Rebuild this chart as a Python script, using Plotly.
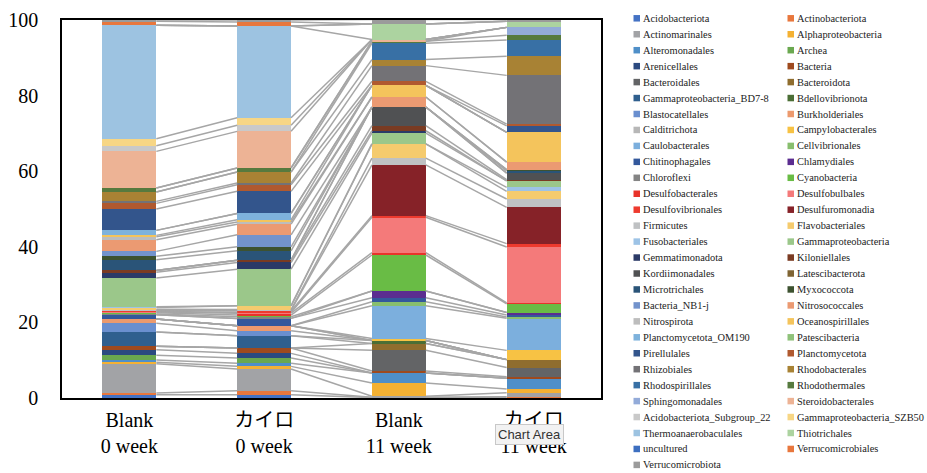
import numpy as np
import plotly.graph_objects as go

categories = ["Blank<br>0 week", "カイロ<br>0 week", "Blank<br>11 week", "カイロ<br>11 week"]

taxa = [
    "Acidobacteriota", "Actinobacteriota", "Actinomarinales", "Alphaproteobacteria",
    "Alteromonadales", "Archea", "Arenicellales", "Bacteria", "Bacteroidales",
    "Bacteroidota", "Gammaproteobacteria_BD7-8", "Bdellovibrionota", "Blastocatellales",
    "Burkholderiales", "Calditrichota", "Campylobacterales", "Caulobacterales",
    "Cellvibrionales", "Chitinophagales", "Chlamydiales", "Chloroflexi", "Cyanobacteria",
    "Desulfobacterales", "Desulfobulbales", "Desulfovibrionales", "Desulfuromonadia",
    "Firmicutes", "Flavobacteriales", "Fusobacteriales", "Gammaproteobacteria",
    "Gemmatimonadota", "Kiloniellales", "Kordiimonadales", "Latescibacterota",
    "Microtrichales", "Myxococcota", "Bacteria_NB1-j", "Nitrosococcales", "Nitrospirota",
    "Oceanospirillales", "Planctomycetota_OM190", "Patescibacteria", "Pirellulales",
    "Planctomycetota", "Rhizobiales", "Rhodobacterales", "Rhodospirillales",
    "Rhodothermales", "Sphingomonadales", "Steroidobacterales",
    "Acidobacteriota_Subgroup_22", "Gammaproteobacteria_SZB50", "Thermoanaerobaculales",
    "Thiotrichales", "uncultured", "Verrucomicrobiales", "Verrucomicrobiota",
]

colors = [
    "#4472C4", "#E8773D", "#A2A3A6", "#F4B133", "#4F8FC8", "#6AA84F", "#2B4A80",
    "#9E4A1E", "#636466", "#8F6D2E", "#2F5F8E", "#4B6E35", "#6A8FCF", "#EC9A6E",
    "#B7B7B7", "#F7C244", "#7CAFDD", "#88BE6E", "#33589C", "#5B2D90", "#848484",
    "#69BC45", "#E8332A", "#F47A7A", "#EE3A2E", "#862228", "#BFC1C3", "#F5CB6E",
    "#9DC3E6", "#9BC78A", "#2B3A67", "#7A3B22", "#505153", "#7F6433", "#2A5478",
    "#3D5230", "#7393CC", "#EB9A72", "#BDBDBD", "#F4C45C", "#7EB2DC", "#8FC27A",
    "#33558C", "#B0592F", "#737276", "#A88234", "#3870A5", "#567A3E", "#93ABD9",
    "#EDB395", "#C9C9C9", "#F7D685", "#9DC3E1", "#ACD3A0", "#3D6FC0", "#E8773D",
    "#9B9B9B",
]

blank_0w = [
    0.88, 0.44, 7.76, 0.36, 0.61, 1.24, 1.5, 0.88, 0, 0, 3.79, 0, 2.29, 1.15, 0, 0, 0,
    0, 1.15, 0, 0.2, 0.3, 0.2, 0.2, 0.15, 0.15, 0.2, 0.5, 0.2, 7.59, 1.5, 0.52, 0, 0,
    2.83, 0.88, 1.32, 3.09, 0.79, 0.35, 1.33, 0, 5.64, 1.5, 0.53, 2.47, 0, 1.06, 0,
    9.7, 1.5, 1.84, 30.0, 0, 0, 1.05, 0.35,
]
kairo_0w = [
    0.88, 1.06, 5.73, 0.7, 0.8, 1.41, 1.23, 1.41, 0, 0, 3.26, 0, 1.32, 1.32, 0, 0, 0,
    0, 1.94, 0, 0.44, 0.44, 0.5, 0.2, 0.4, 0.15, 0.2, 1.0, 0, 9.7, 1.76, 0.62, 0, 0,
    2.47, 1.06, 3.17, 2.82, 0.6, 0.55, 1.68, 0, 5.85, 1.76, 0.44, 2.91, 0, 1.06, 0,
    9.7, 1.59, 2.03, 24.25, 0, 0, 1.06, 0.5,
]
blank_11w = [
    0.1, 0.1, 0.25, 3.53, 2.65, 0, 0, 0.53, 5.48, 1.77, 0, 0.8, 0, 0, 0, 0.53, 8.66,
    1.06, 1.06, 1.77, 0, 9.54, 0.62, 9.36, 0.44, 13.43, 1.77, 3.8, 0, 2.83, 0.62, 1.33,
    4.95, 0, 0, 0, 0, 2.65, 0, 3.09, 0, 0, 0, 1.06, 4.15, 1.59, 4.33, 0.53, 0, 0.44,
    0, 0, 0, 4.15, 0, 0, 1.15,
]
kairo_11w = [
    0.1, 0.2, 1.1, 1.0, 2.8, 0, 0, 0.45, 2.4, 2.1, 0, 0, 0, 0, 0, 2.45, 8.5, 0.35,
    0.5, 0.65, 0, 2.3, 0.25, 14.8, 0.9, 9.6, 2.2, 2.0, 1.05, 1.75, 0, 0.3, 1.75, 0,
    0.6, 0.3, 0, 2.0, 0, 7.85, 0, 0, 1.75, 0.45, 12.9, 5.05, 4.3, 1.25, 2.1, 0, 0, 0,
    0, 1.6, 0, 0, 0.45,
]

y_ticks = [0, 20, 40, 60, 80, 100]

values = np.array([blank_0w, kairo_0w, blank_11w, kairo_11w]).T  # (taxa, groups)
xpos = np.arange(len(categories))
BAR_W = 0.4

fig = go.Figure()
for name, col, vals in zip(taxa, colors, values):
    fig.add_trace(go.Bar(
        x=xpos, y=vals, name=name, width=BAR_W, marker=dict(color=col, line=dict(width=0)),
        showlegend=False, hoverinfo="name+y",
    ))

# Excel-style series lines connecting top of each segment between adjacent bars
tops = np.cumsum(values, axis=0)
lx, ly = [], []
for row in tops:
    for i in range(len(categories) - 1):
        lx += [xpos[i] + BAR_W / 2, xpos[i + 1] - BAR_W / 2, None]
        ly += [row[i], row[i + 1], None]
fig.add_trace(go.Scatter(x=lx, y=ly, mode="lines", line=dict(color="#A6A6A6", width=1.5),
                         hoverinfo="skip", showlegend=False))

W, H = 927, 473
ML, MT = 62, 20
MR = W - 601
MB = H - 398
PW, PH = W - ML - MR, H - MT - MB


def px_x(px):
    return (px - ML) / PW


def px_y(py):
    return (H - MB - py) / PH


# Manual two-column legend (Excel row-major order)
shapes, annots = [], []
for k, (name, col) in enumerate(zip(taxa, colors)):
    r, c = divmod(k, 2)
    cy = 18.3 + r * 15.95
    mx = 633.5 if c == 0 else 787.5
    shapes.append(dict(type="rect", xref="paper", yref="paper",
                       x0=px_x(mx), x1=px_x(mx + 6.5), y0=px_y(cy + 3.25), y1=px_y(cy - 3.25),
                       fillcolor=col, line=dict(width=0)))
    annots.append(dict(x=px_x(mx + 7.5), y=px_y(cy), xref="paper", yref="paper",
                       text=name, showarrow=False, xanchor="left", yanchor="middle",
                       font=dict(family="Liberation Serif", size=10.4, color="#222222")))

annots.append(dict(x=px_x(529), y=px_y(434), xref="paper", yref="paper", text="Chart Area",
                   showarrow=False, xanchor="center", yanchor="middle",
                   font=dict(family="Liberation Sans", size=13, color="#333333"),
                   bgcolor="#F2F2F2", bordercolor="#C8C8C8", borderwidth=1, borderpad=2))

fig.update_layout(
    width=W, height=H, barmode="stack", bargap=0.6,
    margin=dict(l=ML, r=MR, t=MT, b=MB, autoexpand=False),
    paper_bgcolor="white", plot_bgcolor="white",
    font=dict(family="Liberation Serif, Noto Sans CJK JP", size=20, color="black"),
    shapes=shapes, annotations=annots,
    xaxis=dict(range=[-0.5, len(categories) - 0.5], tickmode="array", tickvals=xpos,
               ticktext=categories, showgrid=False, zeroline=False, showline=True,
               linecolor="black", linewidth=1.5, mirror=True, ticks="",
               ticklabelstandoff=3,
               tickfont=dict(family="Liberation Serif, Noto Sans CJK JP", size=20)),
    yaxis=dict(range=[0, 100], tickvals=y_ticks, showgrid=False, zeroline=False,
               showline=True, linecolor="black", linewidth=1.5, mirror=True, ticks="",
               ticklabelstandoff=18,
               tickfont=dict(family="Liberation Serif", size=20)),
)

fig.write_html("out.html", config={"displayModeBar": False},
               post_script="document.body.style.margin='0';document.body.style.overflow='hidden';")
